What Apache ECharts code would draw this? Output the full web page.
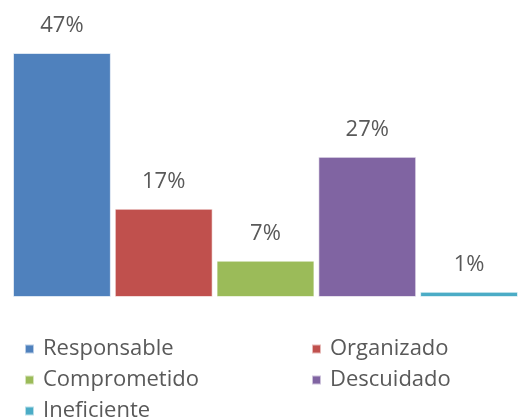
<!DOCTYPE html>
<html>
<head>
<meta charset="utf-8">
<script src="https://cdn.jsdelivr.net/npm/echarts@6/dist/echarts.min.js"></script>
<style>
  html, body { margin: 0; padding: 0; background: #fff; }
  #chart { width: 518px; height: 418px; }
</style>
</head>
<body>
<div id="chart"></div>
<script>
// datos del gráfico
var categorias = ['Responsable', 'Organizado', 'Comprometido', 'Descuidado', 'Ineficiente'];
var valores = [47, 17, 7, 27, 1];
var colores = ['#4F81BD', '#C0504D', '#9BBB59', '#8064A2', '#4BACC6'];

var chart = echarts.init(document.getElementById('chart'));

var series = [];
for (var i = 0; i < categorias.length; i++) {
    series.push({
        name: categorias[i],
        type: 'bar',
        barGap: '4%',
        barCategoryGap: 0,
        itemStyle: {
            color: colores[i],
            borderColor: 'rgba(255,255,255,0.6)',
            borderWidth: 1
        },
        label: {
            show: true,
            position: 'top',
            distance: 16,
            formatter: '{c}%',
            color: '#595959',
            fontSize: 22,
            fontFamily: 'Open Sans'
        },
        data: [valores[i]]
    });
}

var legendText = {
    color: '#595959',
    fontSize: 22,
    fontFamily: 'Open Sans',
    padding: [0, 0, 0, 4]
};

var option = {
    backgroundColor: '#fff',
    animation: false,
    grid: {
        left: 13,
        right: 0,
        top: 53,
        bottom: 121
    },
    xAxis: {
        type: 'category',
        data: [''],
        axisLine: { show: false },
        axisTick: { show: false },
        axisLabel: { show: false }
    },
    yAxis: {
        type: 'value',
        min: 0,
        max: 47,
        show: false,
        splitLine: { show: false }
    },
    legend: [{
        orient: 'vertical',
        left: 19,
        top: 333,
        height: 140,
        itemWidth: 9,
        itemHeight: 9,
        itemGap: 9,
        icon: 'rect',
        data: [categorias[0], categorias[2], categorias[4]],
        textStyle: legendText
    }, {
        orient: 'vertical',
        left: 306,
        top: 333,
        height: 140,
        itemWidth: 9,
        itemHeight: 9,
        itemGap: 9,
        icon: 'rect',
        data: [categorias[1], categorias[3]],
        textStyle: legendText
    }],
    series: series
};

chart.setOption(option);
</script>
</body>
</html>
